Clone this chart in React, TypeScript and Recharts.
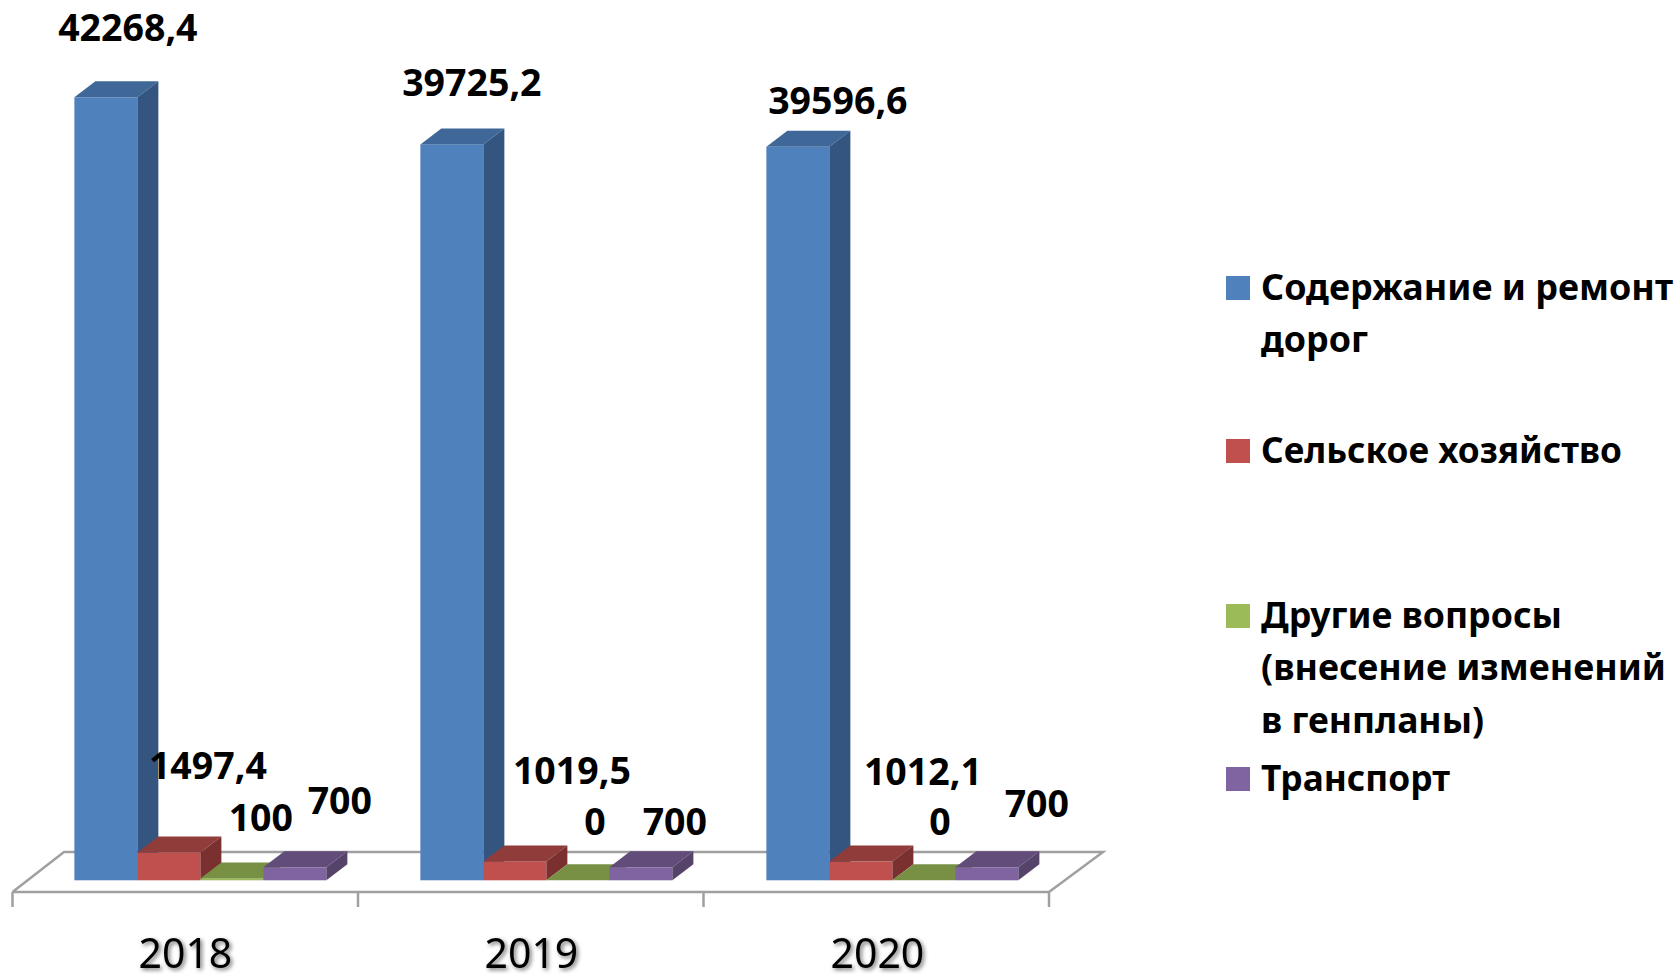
import { BarChart, Bar, XAxis, YAxis, Legend, LabelList } from "recharts";

const years = ["2018", "2019", "2020"];
const roads = [42268.4, 39725.2, 39596.6];
const agriculture = [1497.4, 1019.5, 1012.1];
const other = [100, 0, 0];
const transport = [700, 700, 700];

const seriesNames = [
  "Содержание и ремонт дорог",
  "Сельское хозяйство",
  "Другие вопросы (внесение изменений в генпланы)",
  "Транспорт",
];

const data = years.map((year, i) => ({
  year,
  roads: roads[i],
  agriculture: agriculture[i],
  other: other[i],
  transport: transport[i],
}));

const FONT = "'Noto Sans', sans-serif";
const WIDTH = 1680;
const HEIGHT = 974;
const DEPTH_X = 21;
const DEPTH_Y = 16;

// label offsets from the bar's top centre, one per year
const roadsLabels = [[22, -56], [20, -48], [40, -33]];
const agricultureLabels = [[39, -74], [57, -77], [62, -77]];
const otherLabels = [[29, -47], [17, -45], [16, -45]];
const transportLabels = [[45, -53], [34, -32], [50, -50]];

// wrapped legend text: [text, baseline y, fitted width]
const legendRows = [
  { swatchBottom: 300, lines: [["Содержание и ремонт", 300, 412], ["дорог", 352, 107]] },
  { swatchBottom: 463, lines: [["Сельское хозяйство", 463, 361]] },
  {
    swatchBottom: 628,
    lines: [
      ["Другие вопросы", 628, 301],
      ["(внесение изменений", 680, 405],
      ["в генпланы)", 733, 223],
    ],
  },
  { swatchBottom: 791, lines: [["Транспорт", 791, 189]] },
];

function Box3D({ x, y, width, height, fill, top, side }: any) {
  const h = Math.max(height, 0);
  return (
    <g>
      <rect x={x} y={y} width={width} height={h} fill={fill} />
      <polygon
        points={`${x},${y} ${x + DEPTH_X},${y - DEPTH_Y} ${x + width + DEPTH_X},${y - DEPTH_Y} ${x + width},${y}`}
        fill={top}
      />
      <polygon
        points={`${x + width},${y} ${x + width + DEPTH_X},${y - DEPTH_Y} ${x + width + DEPTH_X},${y + h - DEPTH_Y} ${x + width},${y + h}`}
        fill={side}
      />
    </g>
  );
}

function ValueLabel({ x, y, width, value, index, offsets }: any) {
  const [dx, dy] = offsets[index];
  return (
    <text
      x={x + width / 2 + dx}
      y={y + dy}
      textAnchor="middle"
      fontFamily={FONT}
      fontWeight={700}
      fontSize={37.5}
      fill="#000"
    >
      {String(value).replace(".", ",")}
    </text>
  );
}

function YearTick({ x, y, payload }: any) {
  return (
    <text
      x={x - 15.6}
      y={y + 82}
      textAnchor="middle"
      fontFamily={FONT}
      fontSize={41}
      fill="#000"
      style={{ filter: "drop-shadow(2px 2px 2px rgba(0,0,0,0.55))" }}
    >
      {payload.value}
    </text>
  );
}

function Floor() {
  const stroke = "#a0a0a0";
  const left = 12.5;
  const right = 1049;
  const step = (right - left) / years.length;
  return (
    <g fill="none" stroke={stroke} strokeWidth={2.5}>
      <polyline points={`${left},892 64,852 1103,852 ${right},892 ${left},892`} />
      {[0, 1, 2, 3].map((i) => (
        <line key={i} x1={left + step * i} y1={892} x2={left + step * i} y2={907} />
      ))}
    </g>
  );
}

function LegendBlock({ payload }: any) {
  return (
    <div style={{ position: "relative", width: 0, height: 0 }}>
      <svg
        width={WIDTH}
        height={HEIGHT}
        style={{ position: "absolute", left: 0, top: 0, overflow: "visible" }}
      >
        {legendRows.map((row, i) => (
          <g key={i}>
            <rect x={1226} y={row.swatchBottom - 24} width={24} height={24} fill={payload?.[i]?.color} />
            {row.lines.map(([text, baseline, fitted]: any) => (
              <text
                key={text}
                x={1261}
                y={baseline}
                fontFamily={FONT}
                fontWeight={700}
                fontSize={36}
                fill="#000"
                textLength={fitted}
                lengthAdjust="spacingAndGlyphs"
              >
                {text}
              </text>
            ))}
          </g>
        ))}
      </svg>
    </div>
  );
}

export default function App() {
  return (
    <div style={{ position: "absolute", left: 0, top: 0, width: WIDTH, height: HEIGHT, background: "#fff" }}>
      <BarChart
        width={WIDTH}
        height={HEIGHT}
        data={data}
        margin={{ top: 46.7, right: 614, left: 28, bottom: 0 }}
        barCategoryGap="13.4%"
        barGap={0}
      >
        <Floor />
        <XAxis
          dataKey="year"
          axisLine={false}
          tickLine={false}
          height={93.7}
          tick={<YearTick />}
          tickMargin={0}
        />
        <YAxis hide domain={[0, 45000]} />
        <Legend
          content={<LegendBlock />}
          itemSorter={null}
          wrapperStyle={{ left: 0, top: 0, bottom: "auto", width: 0, height: 0 }}
        />
        <Bar
          dataKey="roads"
          name={seriesNames[0]}
          fill="#4f81bd"
          isAnimationActive={false}
          shape={<Box3D top="#3f6797" side="#34557f" />}
        >
          <LabelList dataKey="roads" content={<ValueLabel offsets={roadsLabels} />} />
        </Bar>
        <Bar
          dataKey="agriculture"
          name={seriesNames[1]}
          fill="#c0504d"
          isAnimationActive={false}
          shape={<Box3D top="#8f3c3a" side="#7a302e" />}
        >
          <LabelList dataKey="agriculture" content={<ValueLabel offsets={agricultureLabels} />} />
        </Bar>
        <Bar
          dataKey="other"
          name={seriesNames[2]}
          fill="#9bbb59"
          isAnimationActive={false}
          shape={<Box3D top="#779044" side="#677d3a" />}
        >
          <LabelList dataKey="other" content={<ValueLabel offsets={otherLabels} />} />
        </Bar>
        <Bar
          dataKey="transport"
          name={seriesNames[3]}
          fill="#8064a2"
          isAnimationActive={false}
          shape={<Box3D top="#614c7a" side="#554369" />}
        >
          <LabelList dataKey="transport" content={<ValueLabel offsets={transportLabels} />} />
        </Bar>
      </BarChart>
    </div>
  );
}
